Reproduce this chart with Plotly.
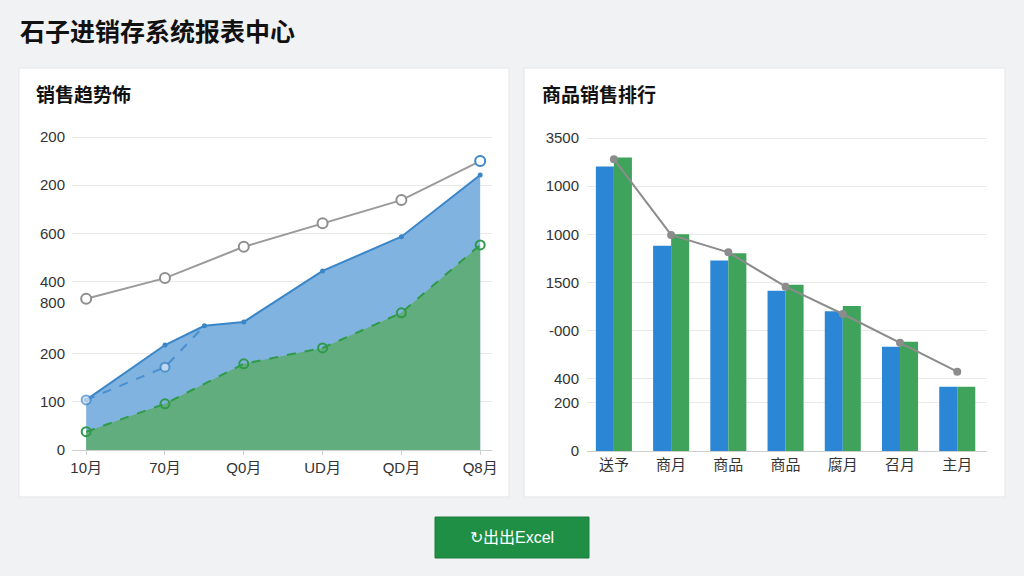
import plotly.graph_objects as go

W, H = 1024, 576

# ---------------- data ----------------
page_title = "石子进销存系统报表中心"
left_title = "销售趋势佈"
right_title = "商品销售排行"
button_text = "↻出出Excel"

month_labels = ["10月", "70月", "Q0月", "UD月", "QD月", "Q8月"]
month_pos = [0, 1, 2, 3, 4, 5]

blue_area_x = [0, 1, 1.5, 2, 3, 4, 5]
blue_area_y = [104, 218, 258, 266, 372, 443, 571]
blue_dash_x = [0, 1, 1.5]
blue_dash_y = [104, 172, 258]
green_area_y = [38, 96, 179, 212, 285, 426]
gray_line_y = [314, 357, 422, 471, 519, 600]

left_tick_vals = [0, 100, 200, 350, 450, 550, 650]
left_tick_text = ["0", "100", "200", "400", "600", "200", "200"]
left_extra_val = [305]
left_extra_text = ["800"]

product_labels = ["送予", "商月", "商品", "商品", "腐月", "召月", "主月"]
product_pos = [0, 1, 2, 3, 4, 5, 6]
bar_blue = [2363, 1704, 1582, 1332, 1161, 867, 534]
bar_green = [2437, 1801, 1643, 1380, 1205, 908, 534]
rank_line = [2424, 1795, 1650, 1365, 1138, 900, 659]

right_tick_vals = [0, 400, 600, 1000, 1400, 1800, 2200, 2600]
right_tick_text = ["0", "200", "400", "-000", "1500", "1000", "1000", "3500"]

# ---------------- helpers ----------------
def px(x):
    return x / W

def py(y):
    return 1 - y / H

FONT = "Liberation Sans, Noto Sans CJK SC, sans-serif"
CJK = "Noto Sans CJK SC, sans-serif"

fig = go.Figure()

# left chart
fig.add_trace(go.Scatter(
    x=blue_area_x, y=blue_area_y, mode="lines+markers", fill="tozeroy",
    fillcolor="#80b3df", line=dict(color="#3a86c8", width=2),
    marker=dict(size=5, color="#3a86c8"), xaxis="x", yaxis="y", showlegend=False))
fig.add_trace(go.Scatter(
    x=month_pos, y=green_area_y, mode="lines+markers", fill="tozeroy",
    fillcolor="#62ad7d", line=dict(color="#2f9a4a", width=2, dash="dash"),
    marker=dict(size=9, symbol="circle-open", color="#2f9a4a", line=dict(width=2)),
    xaxis="x", yaxis="y", showlegend=False))
fig.add_trace(go.Scatter(
    x=blue_dash_x, y=blue_dash_y, mode="lines+markers",
    line=dict(color="#4a90d0", width=2, dash="dash"),
    marker=dict(size=[9, 9, 0], color="#dbe9f7", line=dict(color="#3a86c8", width=2)),
    xaxis="x", yaxis="y", showlegend=False))
fig.add_trace(go.Scatter(
    x=month_pos, y=gray_line_y, mode="lines+markers",
    line=dict(color="#9a9a9a", width=2),
    marker=dict(size=10, color="white",
                line=dict(color=["#8f8f8f"] * 5 + ["#3a86c8"], width=2)),
    xaxis="x", yaxis="y", showlegend=False))
fig.add_trace(go.Scatter(x=[], y=[], xaxis="x", yaxis="y3", showlegend=False))

# right chart
fig.add_trace(go.Bar(x=product_pos, y=bar_blue, marker=dict(color="#2b87d6", line=dict(width=0)),
                     xaxis="x2", yaxis="y2", showlegend=False))
fig.add_trace(go.Bar(x=product_pos, y=bar_green, marker=dict(color="#3fa35b", line=dict(width=0)),
                     xaxis="x2", yaxis="y2", showlegend=False))
fig.add_trace(go.Scatter(
    x=product_pos, y=rank_line, mode="lines+markers",
    line=dict(color="#8c8c8c", width=2),
    marker=dict(size=8, color="#8c8c8c"),
    xaxis="x2", yaxis="y2", showlegend=False))

left_dom_y = [py(450), py(450 - 660 * 0.4815)]
right_dom_y = [py(451), py(451 - 2650 * (313 / 2600))]

axis_common = dict(tickfont=dict(family=FONT, size=15, color="#333"), zeroline=False,
                   automargin=False)

fig.update_layout(
    width=W, height=H, autosize=False,
    margin=dict(l=0, r=0, t=0, b=0, pad=0, autoexpand=False),
    paper_bgcolor="#f1f2f4", plot_bgcolor="rgba(0,0,0,0)",
    showlegend=False,
    barmode="group", bargap=0.37, bargroupgap=0,
    xaxis=dict(domain=[px(72), px(492)], range=[-0.18, 5.15], anchor="y",
               tickvals=month_pos, ticktext=month_labels, showgrid=False,
               showline=True, linecolor="#cfcfcf", ticks="outside", ticklen=4,
               tickcolor="#cfcfcf", **axis_common),
    yaxis=dict(domain=left_dom_y, range=[0, 660], anchor="x",
               tickvals=left_tick_vals, ticktext=left_tick_text,
               showgrid=True, gridcolor="#e9e9e9", showline=False, ticks="",
               ticklabelstandoff=6, **axis_common),
    yaxis3=dict(overlaying="y", anchor="x", range=[0, 660], tickvals=left_extra_val,
                ticktext=left_extra_text, showgrid=False, showline=False, side="left",
                ticklabelstandoff=6, **axis_common),
    xaxis2=dict(domain=[px(587), px(987)], range=[-0.47, 6.52], anchor="y2",
                tickvals=product_pos, ticktext=product_labels, showgrid=False,
                showline=True, linecolor="#cfcfcf", ticks="", **axis_common),
    yaxis2=dict(domain=right_dom_y, range=[0, 2650], anchor="x2",
                tickvals=right_tick_vals, ticktext=right_tick_text,
                showgrid=True, gridcolor="#e9e9e9", showline=False, ticks="",
                ticklabelstandoff=7, **axis_common),
)

shapes = []
for (x0, x1) in [(19, 509), (524, 1005)]:
    shapes.append(dict(type="rect", xref="paper", yref="paper", x0=px(x0), x1=px(x1),
                       y0=py(497), y1=py(68), fillcolor="white",
                       line=dict(color="#e3e5e8", width=1), layer="below"))
shapes.append(dict(type="rect", xref="paper", yref="paper", x0=px(435), x1=px(589),
                   y0=py(558), y1=py(517), fillcolor="#1f8f45",
                   line=dict(color="#1b7f3d", width=1), layer="above"))
fig.update_layout(shapes=shapes)

annotations = [
    dict(text="<b>" + page_title + "</b>", x=px(18), y=py(30), xanchor="left", yanchor="middle",
         font=dict(family=CJK, size=25, color="#111"), showarrow=False,
         xref="paper", yref="paper"),
    dict(text="<b>" + left_title + "</b>", x=px(34), y=py(93), xanchor="left", yanchor="middle",
         font=dict(family=CJK, size=19, color="#111"), showarrow=False,
         xref="paper", yref="paper"),
    dict(text="<b>" + right_title + "</b>", x=px(540), y=py(93), xanchor="left", yanchor="middle",
         font=dict(family=CJK, size=19, color="#111"), showarrow=False,
         xref="paper", yref="paper"),
    dict(text=button_text, x=px(512), y=py(537), xanchor="center", yanchor="middle",
         font=dict(family=FONT, size=16, color="white"), showarrow=False,
         xref="paper", yref="paper"),
]
fig.update_layout(annotations=annotations)

fig.write_html(
    "out.html",
    config={"displayModeBar": False},
    post_script=(
        "document.body.style.margin='0';"
        "document.body.style.overflow='hidden';"
        "document.body.style.background='#f1f2f4';"
    ),
)
